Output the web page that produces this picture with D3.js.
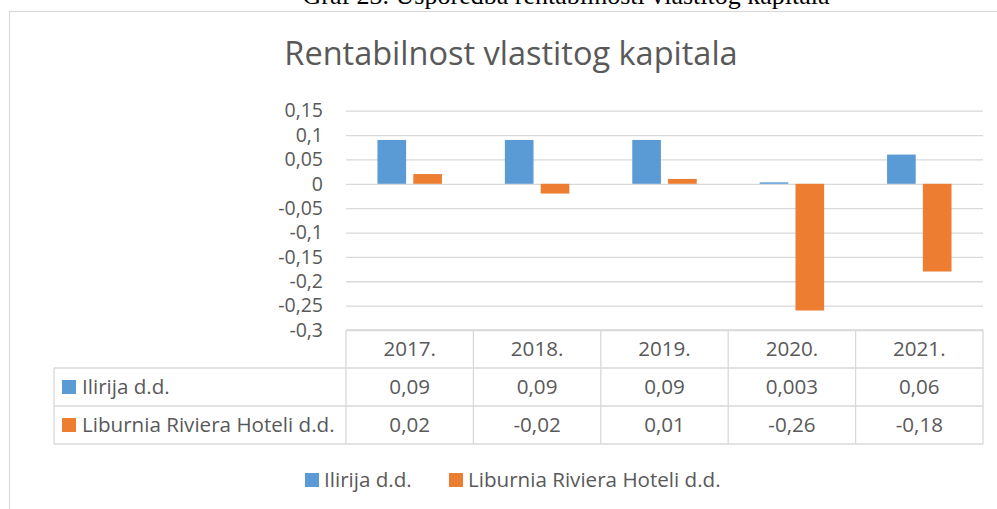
<!DOCTYPE html>
<html>
<head>
<meta charset="utf-8">
<script src="https://cdn.jsdelivr.net/npm/d3@7"></script>
<style>
  body { margin: 0; background: #fff; }
  svg { display: block; }
  text { font-family: "Open Sans", Lato, sans-serif; fill: #595959; }
</style>
</head>
<body>
<script>
var years = ["2017.", "2018.", "2019.", "2020.", "2021."];
var seriesNames = ["Ilirija d.d.", "Liburnia Riviera Hoteli d.d."];
var ilirija = [0.09, 0.09, 0.09, 0.003, 0.06];
var liburnia = [0.02, -0.02, 0.01, -0.26, -0.18];
var yTicks = [0.15, 0.1, 0.05, 0, -0.05, -0.1, -0.15, -0.2, -0.25, -0.3];
var colors = ["#5b9bd5", "#ed7d31"];

var seriesValues = [ilirija, liburnia];

var locale = d3.formatLocale({decimal: ",", thousands: ".", grouping: [3], currency: ["", ""], minus: "-"});
var tickFmt = locale.format(".2~f");
var cellFmt = locale.format(".3~f");

var screen = {width: 997, height: 509};
var plot = {left: 346, right: 983, top: 110.7, bottom: 330};
var rowH = 38;
var tableLeft = 54;
var tickSize = "19.5px";
var fontSize = "20.6px";

var svg = d3.select("body")
            .append("svg")
            .attr("width", screen.width)
            .attr("height", screen.height);

// document caption, mostly cut off at the top
svg.append("text")
   .attr("x", 566)
   .attr("y", 4)
   .attr("text-anchor", "middle")
   .style("font-family", "'Liberation Serif', 'DejaVu Serif', serif")
   .style("font-size", "26px")
   .style("fill", "#000")
   .text("Graf 23. Usporedba rentabilnosti vlastitog kapitala");

// chart area border
svg.append("rect")
   .attr("x", 9.5)
   .attr("y", 11.5)
   .attr("width", 1000)
   .attr("height", 600)
   .attr("fill", "none")
   .attr("stroke", "#d9d9d9")
   .attr("stroke-width", 1.2);

svg.append("text")
   .attr("x", 511)
   .attr("y", 65)
   .attr("text-anchor", "middle")
   .style("font-size", "32.5px")
   .text("Rentabilnost vlastitog kapitala");

var x0 = d3.scaleBand()
           .domain(years)
           .range([plot.left, plot.right]);

var x1 = d3.scaleBand()
           .domain(seriesNames)
           .range([x0.bandwidth() * 0.247, x0.bandwidth() * 0.753])
           .paddingInner(0.2);

var yScale = d3.scaleLinear()
               .domain([-0.3, 0.15])
               .range([plot.bottom, plot.top]);

// gridlines
var yAxis = d3.axisLeft(yScale)
              .tickValues(yTicks)
              .tickSize(-(plot.right - plot.left))
              .tickPadding(23)
              .tickFormat(tickFmt);

var yg = svg.append("g")
            .attr("class", "axis y")
            .attr("transform", "translate(" + plot.left + ",0)")
            .call(yAxis);

yg.select(".domain").remove();
yg.selectAll("line")
  .attr("stroke", "#d9d9d9")
  .attr("stroke-width", 1.3);
yg.selectAll("text")
  .style("font-size", tickSize)
  .style("fill", "#595959")
  .style("font-family", "'Open Sans', sans-serif");

// bars
var groups = svg.append("g")
                .selectAll("g")
                .data(seriesNames)
                .enter()
                .append("g")
                .attr("fill", function(d, i) { return colors[i]; });

groups.selectAll("rect")
      .data(function(d, i) {
        return years.map(function(y, j) { return {year: y, series: d, value: seriesValues[i][j]}; });
      })
      .enter()
      .append("rect")
      .attr("x", function(d) { return x0(d.year) + x1(d.series); })
      .attr("y", function(d) { return yScale(Math.max(0, d.value)); })
      .attr("width", x1.bandwidth())
      .attr("height", function(d) { return Math.abs(yScale(d.value) - yScale(0)); });

// data table
var table = svg.append("g")
               .attr("stroke", "#d9d9d9")
               .attr("stroke-width", 1.3);

table.append("line")
     .attr("x1", plot.left).attr("x2", plot.right)
     .attr("y1", plot.bottom).attr("y2", plot.bottom);

[1, 2, 3].forEach(function(r) {
  table.append("line")
       .attr("x1", tableLeft).attr("x2", plot.right)
       .attr("y1", plot.bottom + r * rowH).attr("y2", plot.bottom + r * rowH);
});

table.append("line")
     .attr("x1", tableLeft).attr("x2", tableLeft)
     .attr("y1", plot.bottom + rowH).attr("y2", plot.bottom + 3 * rowH);

years.concat(["end"]).forEach(function(y, j) {
  var xx = plot.left + j * x0.bandwidth();
  table.append("line")
       .attr("x1", xx).attr("x2", xx)
       .attr("y1", plot.bottom).attr("y2", plot.bottom + 3 * rowH);
});

svg.append("g")
   .selectAll("text")
   .data(years)
   .enter()
   .append("text")
   .attr("x", function(d) { return x0(d) + x0.bandwidth() / 2; })
   .attr("y", plot.bottom + rowH / 2)
   .attr("dy", "0.35em")
   .attr("text-anchor", "middle")
   .style("font-size", fontSize)
   .text(function(d) { return d; });

seriesNames.forEach(function(name, i) {
  var cy = plot.bottom + rowH * (i + 1.5);
  svg.append("rect")
     .attr("x", 62)
     .attr("y", cy - 7)
     .attr("width", 14)
     .attr("height", 14)
     .attr("fill", colors[i]);
  svg.append("text")
     .attr("x", 82)
     .attr("y", cy)
     .attr("dy", "0.35em")
     .style("font-size", fontSize)
     .text(name);
  svg.append("g")
     .selectAll("text")
     .data(seriesValues[i])
     .enter()
     .append("text")
     .attr("x", function(d, j) { return x0(years[j]) + x0.bandwidth() / 2; })
     .attr("y", cy)
     .attr("dy", "0.35em")
     .attr("text-anchor", "middle")
     .style("font-size", fontSize)
     .text(function(d) { return cellFmt(d); });
});

// legend
var legendX = [305, 449];
seriesNames.forEach(function(name, i) {
  svg.append("rect")
     .attr("x", legendX[i])
     .attr("y", 473)
     .attr("width", 14)
     .attr("height", 14)
     .attr("fill", colors[i]);
  svg.append("text")
     .attr("x", legendX[i] + 19)
     .attr("y", 480)
     .attr("dy", "0.35em")
     .style("font-size", fontSize)
     .text(name);
});
</script>
</body>
</html>
